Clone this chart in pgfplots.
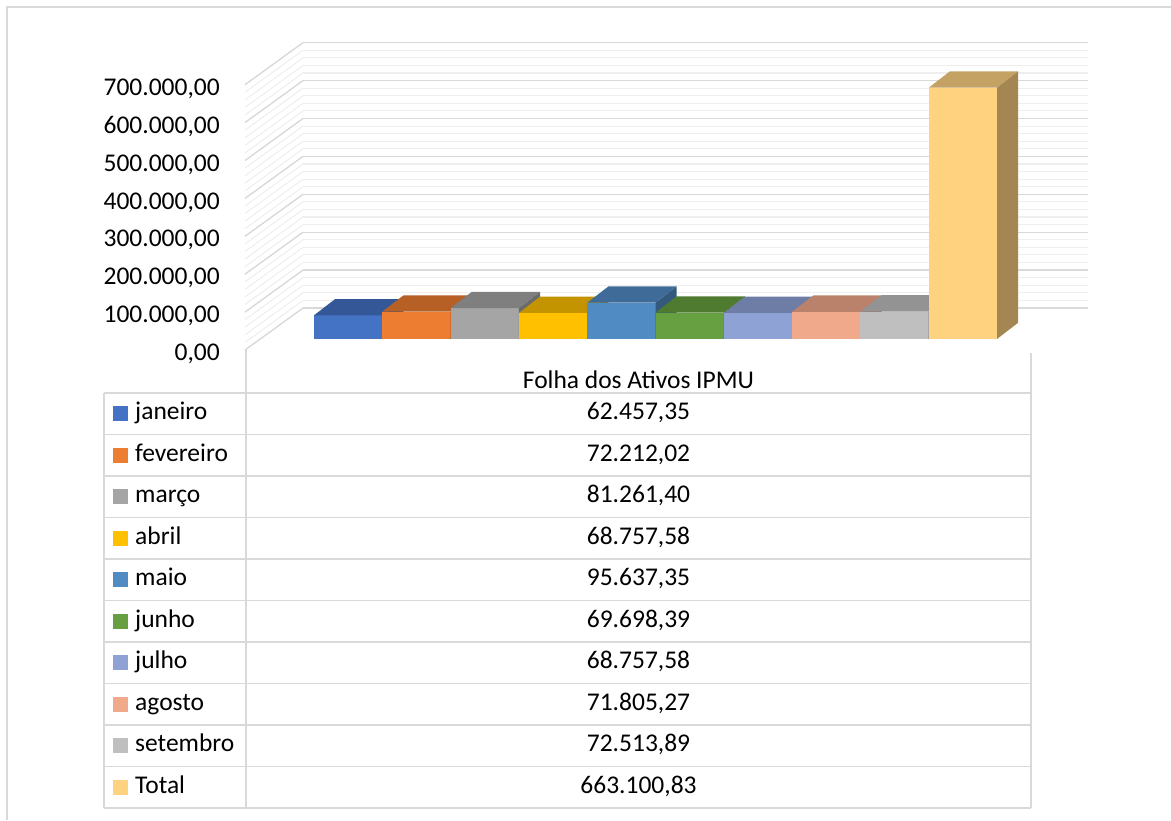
\documentclass[border=0pt]{standalone}
\usepackage{fontspec}
\setmainfont{Carlito}
\usepackage{pgfplots}
\pgfplotsset{compat=1.18}

\definecolor{cJan}{HTML}{4472C4}
\definecolor{cFev}{HTML}{ED7D31}
\definecolor{cMar}{HTML}{A5A5A5}
\definecolor{cAbr}{HTML}{FFC000}
\definecolor{cMai}{HTML}{508BC4}
\definecolor{cJun}{HTML}{66A040}
\definecolor{cJul}{HTML}{8FA2D6}
\definecolor{cAgo}{HTML}{F1A98B}
\definecolor{cSet}{HTML}{BFBFBF}
\definecolor{cTot}{HTML}{FFD280}
\definecolor{gridmaj}{HTML}{D9D9D9}
\definecolor{gridmin}{HTML}{EEEEEE}
\definecolor{tabline}{HTML}{D9D9D9}

\newcommand{\txt}{\fontsize{25.5}{30}\selectfont}
% depth of the 3d bars: in x units and in data units
\newcommand{\depthx}{0.31}
\newcommand{\depthv}{43000}

% one 3d bar: index, value, colour
\newcommand{\barthreed}[3]{%
  \begingroup
  \pgfkeys{/pgf/fpu=true,/pgf/fpu/output format=fixed}%
  \pgfmathsetmacro\tmp{#2+\depthv}\xdef\yb{\tmp}%
  \endgroup
  \pgfmathsetmacro\xa{#1-0.5}%
  \pgfmathsetmacro\xb{#1+0.5}%
  \pgfmathsetmacro\xc{#1-0.5+\depthx}%
  \pgfmathsetmacro\xd{#1+0.5+\depthx}%
  \addplot[draw=none, fill=#3] coordinates {(\xa,0) (\xb,0) (\xb,#2) (\xa,#2)};
  \addplot[draw=none, fill=#3!77!black] coordinates {(\xa,#2) (\xb,#2) (\xd,\yb) (\xc,\yb)};
  \addplot[draw=none, fill=#3!64!black] coordinates {(\xb,0) (\xd,\depthv) (\xd,\yb) (\xb,#2)};
}

\begin{document}
\begin{tikzpicture}[x=1pt,y=1pt]
\useasboundingbox (0,0) rectangle (1171,820);
\draw[tabline, line width=1.5pt] (7,0) -- (7,813) -- (1171,813);

% back wall with grid and value labels
\begin{axis}[
  at={(303pt,512pt)}, anchor=south west,
  scale only axis, width=785pt, height=265.3pt,
  xmin=0, xmax=1, ymin=0, ymax=700000,
  xtick=\empty, ytick distance=100000, minor y tick num=4,
  ymajorgrids, yminorgrids,
  major grid style={color=gridmaj, line width=1.3pt},
  minor grid style={color=gridmin, line width=1.1pt},
  axis line style={draw=none},
  major tick length=0pt, minor tick length=0pt,
  scaled y ticks=false,
  clip=false,
  yticklabel style={font=\txt, anchor=east, inner sep=0pt,
    xshift=-83pt, yshift=-46pt,
    /pgf/number format/.cd, fixed, fixed zerofill, precision=2,
    use comma, 1000 sep={.}, assume math mode=true},
]
\pgfplotsinvokeforeach{0,...,35}{
  \draw[gridmin, line width=1.1pt] (rel axis cs:0,#1/35) -- ++(-58pt,-42pt);
}
\pgfplotsinvokeforeach{0,...,7}{
  \draw[gridmaj, line width=1.3pt] (rel axis cs:0,#1/7) -- ++(-58pt,-42pt);
}
\end{axis}

% bars
\begin{axis}[
  at={(314pt,481pt)}, anchor=south west,
  scale only axis, width=683pt, height=265.3pt,
  xmin=-0.5, xmax=9.5, ymin=0, ymax=700000,
  hide axis, clip=false,
]
\barthreed{0}{62457.35}{cJan}
\barthreed{1}{72212.02}{cFev}
\barthreed{2}{81261.40}{cMar}
\barthreed{3}{68757.58}{cAbr}
\barthreed{4}{95637.35}{cMai}
\barthreed{5}{69698.39}{cJun}
\barthreed{6}{68757.58}{cJul}
\barthreed{7}{71805.27}{cAgo}
\barthreed{8}{72513.89}{cSet}
\barthreed{9}{663100.83}{cTot}
\end{axis}

% data table
\begin{scope}[tabline, line width=1.4pt]
\draw (246,470) -- (246,12);
\draw (1031,467) -- (1031,12);
\draw (104,427) -- (104,12);
\foreach \k in {0,...,10} \draw (104,427-41.5*\k) -- (1031,427-41.5*\k);
\end{scope}
\node[font=\txt] at (638.5,440) {Folha dos Ativos IPMU};
\foreach \lab/\val/\col [count=\k from 0] in {
  janeiro/{62.457,35}/cJan, fevereiro/{72.212,02}/cFev, março/{81.261,40}/cMar,
  abril/{68.757,58}/cAbr, maio/{95.637,35}/cMai, junho/{69.698,39}/cJun,
  julho/{68.757,58}/cJul, agosto/{71.805,27}/cAgo, setembro/{72.513,89}/cSet,
  Total/{663.100,83}/cTot}{
  \pgfmathsetmacro\yy{406.25-41.5*\k}
  \fill[\col] (113,\yy-7.5) rectangle (127.5,\yy+7.5);
  \node[font=\txt, anchor=west, inner sep=0pt] at (135,\yy) {\strut\lab};
  \node[font=\txt, inner sep=0pt] at (638.5,\yy) {\strut\val};
}
\end{tikzpicture}
\end{document}
